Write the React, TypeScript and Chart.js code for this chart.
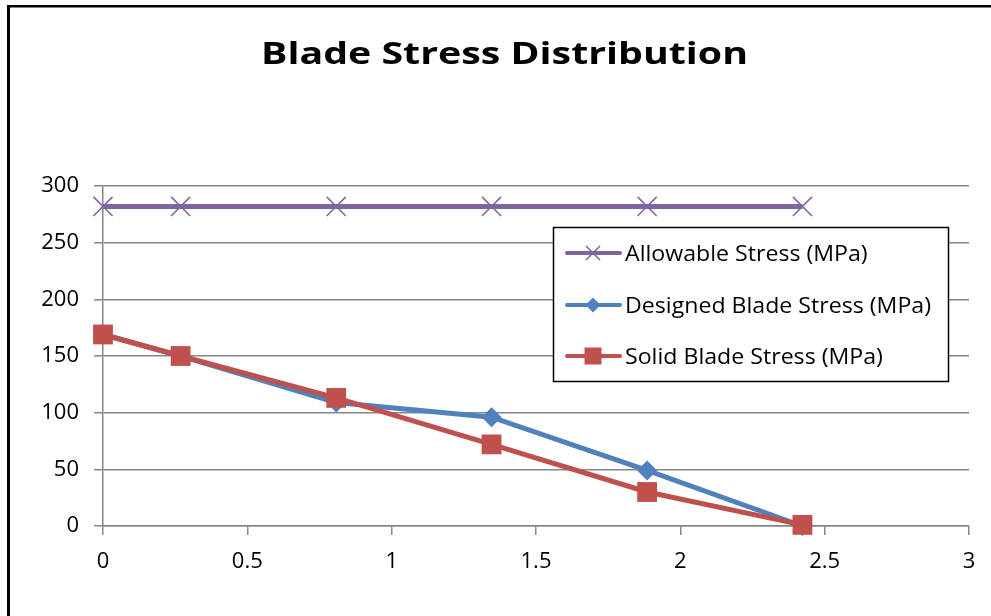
import React, { useEffect, useRef } from 'react';
import { Chart, registerables } from 'chart.js';

Chart.register(...registerables);

// ---- data ----
const chartTitle = 'Blade Stress Distribution';
const seriesNames = ['Allowable Stress (MPa)', 'Designed Blade Stress (MPa)', 'Solid Blade Stress (MPa)'];
const xValues = [0, 0.269, 0.808, 1.346, 1.885, 2.423];
const allowable = [282, 282, 282, 282, 282, 282];
const designed = [169, 150, 109, 96, 49, 0];
const solid = [169, 150, 113, 72, 30, 1];
const xRange = [0, 3];
const xStep = 0.5;
const yRange = [0, 300];
const yStep = 50;

// ---- styles ----
const PURPLE = '#8064A2';
const BLUE = '#4F81BD';
const RED = '#C0504D';
const GRID = '#868686';
const FONT = '"Open Sans", "Noto Sans", sans-serif';

export default function App() {
  const ref = useRef<HTMLCanvasElement>(null);

  useEffect(() => {
    const canvas = ref.current!;
    const colors = [PURPLE, BLUE, RED];
    const markers = ['x', 'diamond', 'square'];

    const framePlugin = {
      id: 'frameAndLegend',
      afterDraw(chart: any) {
        const ctx = chart.ctx as CanvasRenderingContext2D;
        ctx.save();
        // outer frame (left and top edges visible)
        ctx.fillStyle = '#000';
        ctx.fillRect(7, 5, 3, 620);
        ctx.fillRect(7, 5, 1000, 2.5);

        // title (slightly wide face, like the original)
        ctx.font = `bold 31px ${FONT}`;
        ctx.textAlign = 'center';
        ctx.textBaseline = 'alphabetic';
        const tw = ctx.measureText(chartTitle).width;
        ctx.save();
        ctx.translate(504.5, 64);
        ctx.scale(487 / tw, 1);
        ctx.fillStyle = '#000';
        ctx.fillText(chartTitle, 0, 0);
        ctx.restore();

        // legend box
        const lx = 553, ly = 227, lw = 395, lh = 154;
        ctx.fillStyle = '#fff';
        ctx.fillRect(lx, ly, lw, lh);
        ctx.strokeStyle = '#000';
        ctx.lineWidth = 1.5;
        ctx.strokeRect(lx + 0.5, ly + 0.5, lw, lh);

        ctx.font = `22px ${FONT}`;
        const lsx = 306 / ctx.measureText(seriesNames[1]).width;
        const rows = [253, 305, 356];
        seriesNames.forEach((name, i) => {
          const y = rows[i];
          const c = colors[i];
          ctx.strokeStyle = c;
          ctx.lineWidth = 4;
          ctx.lineCap = 'round';
          ctx.beginPath();
          ctx.moveTo(567, y);
          ctx.lineTo(620, y);
          ctx.stroke();
          ctx.lineCap = 'butt';
          const mx = 593;
          if (markers[i] === 'x') {
            ctx.lineWidth = 1.5;
            ctx.beginPath();
            ctx.moveTo(mx - 7, y - 7); ctx.lineTo(mx + 7, y + 7);
            ctx.moveTo(mx - 7, y + 7); ctx.lineTo(mx + 7, y - 7);
            ctx.stroke();
          } else if (markers[i] === 'diamond') {
            ctx.fillStyle = c;
            ctx.beginPath();
            ctx.moveTo(mx - 7.5, y); ctx.lineTo(mx, y - 7.5); ctx.lineTo(mx + 7.5, y); ctx.lineTo(mx, y + 7.5);
            ctx.closePath();
            ctx.fill();
          } else {
            ctx.fillStyle = c;
            ctx.fillRect(mx - 8.5, y - 8.5, 17, 17);
          }
          ctx.save();
          ctx.fillStyle = '#000';
          ctx.textAlign = 'left';
          ctx.textBaseline = 'alphabetic';
          ctx.translate(625, y + 7.8);
          ctx.scale(lsx, 1);
          ctx.fillText(name, 0, 0);
          ctx.restore();
        });
        ctx.restore();
      },
    };

    const toPts = (ys: number[]) => xValues.map((x, i) => ({ x, y: ys[i] }));

    const chart = new Chart(canvas, {
      type: 'line',
      data: {
        datasets: [
          {
            label: seriesNames[0],
            data: toPts(allowable),
            borderColor: PURPLE,
            backgroundColor: PURPLE,
            borderWidth: 5,
            pointStyle: 'crossRot',
            pointRadius: 13.5,
            pointBorderWidth: 1.5,
            pointBorderColor: PURPLE,
            clip: false,
            order: 2,
          },
          {
            label: seriesNames[1],
            data: toPts(designed),
            borderColor: BLUE,
            backgroundColor: BLUE,
            borderWidth: 5,
            pointStyle: 'rectRot',
            pointRadius: 10,
            pointBorderWidth: 0,
            pointBackgroundColor: BLUE,
            clip: false,
            order: 1,
          },
          {
            label: seriesNames[2],
            data: toPts(solid),
            borderColor: RED,
            backgroundColor: RED,
            borderWidth: 5,
            pointStyle: 'rect',
            pointRadius: 14,
            pointBorderWidth: 0,
            pointBackgroundColor: RED,
            clip: false,
            order: 0,
          },
        ] as any,
      },
      options: {
        responsive: false,
        animation: false,
        events: [],
        layout: { padding: { left: 0, right: 22, top: 186, bottom: 0 } },
        plugins: {
          legend: { display: false },
          tooltip: { enabled: false },
          title: { display: false, text: chartTitle },
        },
        scales: {
          x: {
            type: 'linear',
            min: xRange[0],
            max: xRange[1],
            ticks: {
              stepSize: xStep,
              color: '#000',
              font: { family: FONT, size: 22 },
              padding: 14,
              callback: (v: number) => String(Math.round(v * 10) / 10),
            },
            grid: { drawOnChartArea: false, color: GRID, lineWidth: 1.5, tickLength: 9 },
            border: { color: GRID, width: 1.5 },
            afterFit(s: any) { s.height = 90; },
          },
          y: {
            type: 'linear',
            min: yRange[0],
            max: yRange[1],
            ticks: {
              stepSize: yStep,
              color: '#000',
              font: { family: FONT, size: 22 },
              padding: 15,
            },
            grid: { color: GRID, lineWidth: 1.5, tickLength: 9 },
            border: { color: GRID, width: 1.5 },
            afterFit(s: any) { s.width = 103; },
          },
        },
      } as any,
      plugins: [framePlugin],
    });

    return () => chart.destroy();
  }, []);

  return (
    <div style={{ position: 'absolute', left: 0, top: 0, width: 991, height: 616, background: '#fff', overflow: 'hidden' }}>
      <canvas ref={ref} width={991} height={616} style={{ display: 'block' }} />
    </div>
  );
}
